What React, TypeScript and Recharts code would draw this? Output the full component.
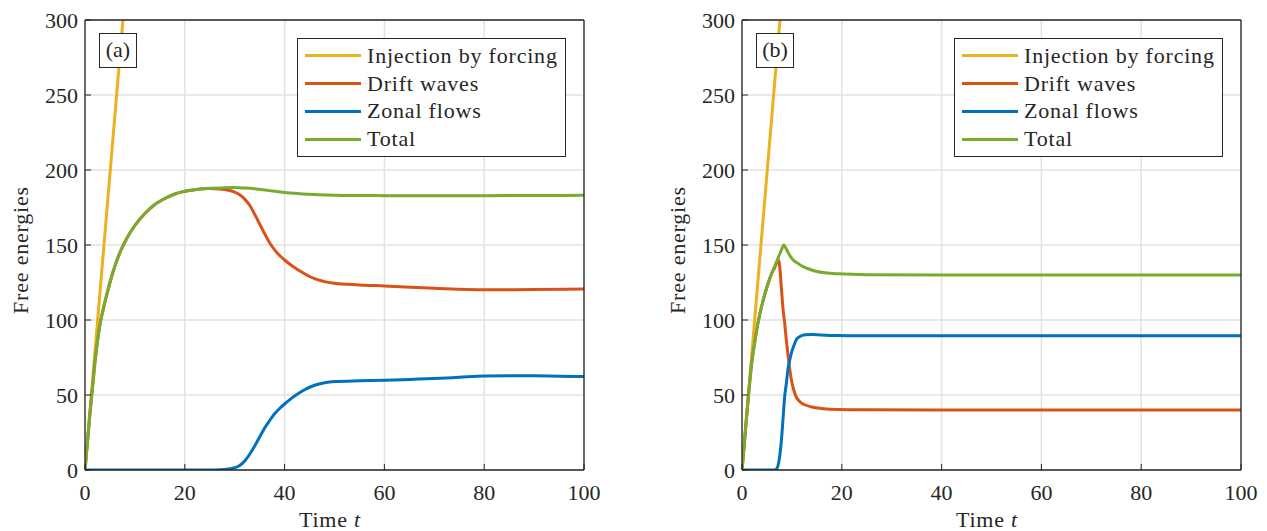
import React from 'react';
import { LineChart, Line, XAxis, YAxis, CartesianGrid, Legend } from 'recharts';

// axis ticks
const xTicks = [0, 20, 40, 60, 80, 100];
const yTicks = [0, 50, 100, 150, 200, 250, 300];

const names = ['Injection by forcing', 'Drift waves', 'Zonal flows', 'Total'];
const colors = ['#EDB120', '#D95319', '#0072BD', '#77AC30'];

// panel (a)
const tInjA = [0, 7.6];
const vInjA = [0, 300];

const tDriftA = [0, 1, 1.5, 2, 3, 4, 5, 6, 7, 8, 9, 10, 12, 14, 16, 18, 20, 22, 25, 27, 28, 29, 30, 31, 32, 33, 34, 35, 36, 37, 38, 39, 40, 41, 42, 43, 44, 45, 46, 47, 48, 50, 55, 60, 70, 80, 90, 100];
const vDriftA = [0, 38, 55, 72, 97, 112, 125, 136, 145, 152, 158, 163, 171, 177, 181, 184, 185.8, 186.9, 187.6, 187.4, 187, 186.3, 185.2, 183.5, 180.6, 176.5, 170.5, 164, 157.5, 151.5, 146.7, 143, 140, 137.3, 135, 132.8, 130.8, 129, 127.6, 126.5, 125.6, 124.5, 123.4, 122.7, 121.2, 120.2, 120.3, 120.6];

const tZonalA = [0, 26, 28, 30, 31, 32, 33, 34, 35, 36, 37, 38, 39, 40, 41, 42, 44, 46, 48, 50, 55, 60, 65, 70, 75, 80, 85, 90, 95, 100];
const vZonalA = [0, 0, 0.3, 1.5, 3, 6, 10.5, 16, 22, 28, 33, 37.5, 41, 44, 46.8, 49.3, 53.5, 56.5, 58.2, 59, 59.5, 59.8, 60.4, 61, 61.8, 62.6, 62.9, 62.8, 62.5, 62.3];

const tTotalA = [0, 1, 1.5, 2, 3, 4, 5, 6, 7, 8, 9, 10, 12, 14, 16, 18, 20, 22, 25, 28, 30, 32, 34, 36, 38, 40, 43, 46, 50, 55, 60, 70, 80, 90, 100];
const vTotalA = [0, 38, 55, 72, 97, 112, 125, 136, 145, 152, 158, 163, 171, 177, 181, 184, 185.8, 186.9, 187.8, 188.2, 188.3, 188, 187.5, 186.7, 185.8, 185, 184.2, 183.6, 183.2, 183, 182.9, 182.9, 182.9, 183, 183.1];

// panel (b)
const tInjB = [0, 7.6];
const vInjB = [0, 300];

const tDriftB = [0, 0.6, 1.2, 1.9, 2.5, 3.2, 4, 5, 5.5, 6, 6.5, 7, 7.35, 7.6, 7.9, 8.2, 8.55, 8.9, 9.2, 9.55, 9.9, 10.4, 10.9, 11.6, 12.6, 14, 15.9, 19.2, 25, 40, 60, 80, 100];
const vDriftB = [0, 23, 46, 70, 84, 98, 110, 122, 127, 131.5, 134.5, 138.5, 140.2, 134, 121, 108, 98, 86, 77, 68, 60, 53, 48.5, 45.5, 43.5, 42, 41, 40.3, 40.1, 40, 40, 40, 40];

const tZonalB = [0, 6.5, 6.9, 7.2, 7.55, 7.9, 8.2, 8.55, 8.9, 9.2, 9.55, 9.9, 10.4, 10.9, 11.6, 12.6, 14, 15.9, 19.2, 25, 40, 60, 80, 100];
const vZonalB = [0, 0, 0.5, 2.7, 9, 20, 33, 49, 58, 67, 73, 78, 83, 87, 89, 90.2, 90.4, 90, 89.6, 89.5, 89.5, 89.5, 89.5, 89.5];

const tTotalB = [0, 0.6, 1.2, 1.9, 2.5, 3.2, 4, 5, 5.5, 6, 6.5, 7, 7.5, 8, 8.35, 8.7, 9, 9.5, 10, 10.5, 11.2, 12, 13, 14.6, 17, 19.2, 25, 40, 60, 80, 100];
const vTotalB = [0, 23, 46, 70, 84, 98, 110, 122, 127, 131.5, 135.5, 139.5, 143.5, 147.5, 150, 148.5, 146.5, 143.5, 141, 139.3, 137.8, 136, 134.5, 132.7, 131.3, 130.8, 130.2, 130, 130, 130, 130];

const zip = (t: number[], v: number[]) => t.map((x, i) => ({ t: x, v: v[i] }));

const panelA = [zip(tInjA, vInjA), zip(tDriftA, vDriftA), zip(tZonalA, vZonalA), zip(tTotalA, vTotalA)];
const panelB = [zip(tInjB, vInjB), zip(tDriftB, vDriftB), zip(tZonalB, vZonalB), zip(tTotalB, vTotalB)];

const ink = '#262626';
const font = 'Liberation Serif';

function LegendBox() {
  return (
    <div
      style={{
        boxSizing: 'border-box',
        width: 269,
        border: `1.5px solid ${ink}`,
        background: '#fff',
        padding: '3px 0 3px 7px',
        fontFamily: font,
        fontSize: 22,
        letterSpacing: 0.8,
        color: ink,
      }}
    >
      {names.map((n, i) => (
        <div key={n} style={{ display: 'flex', alignItems: 'center', height: 27.8 }}>
          <span style={{ display: 'inline-block', width: 56, height: 3, background: colors[i], marginRight: 6 }} />
          <span style={{ lineHeight: '22px', fontFamily: font }}>{n}</span>
        </div>
      ))}
    </div>
  );
}

function Panel({ series, left, width, tag }: { series: { t: number; v: number }[][]; left: number; width: number; tag: string }) {
  return (
    <div style={{ position: 'absolute', left, top: 0, width, height: 531, fontFamily: font }}>
      <LineChart width={width} height={531} margin={{ top: 19, right: width - 585, bottom: 21, left: 25 }} style={{ fontFamily: font }}>
        <CartesianGrid stroke="#e2e2e2" strokeWidth={1.5} horizontalValues={yTicks} verticalValues={xTicks} />
        <XAxis
          type="number"
          dataKey="t"
          domain={[0, 100]}
          ticks={xTicks}
          interval={0}
          height={40}
          tickSize={-6}
          tickMargin={20}
          axisLine={{ stroke: ink, strokeWidth: 1.3 }}
          tickLine={{ stroke: ink }}
          tick={{ fontSize: 22, fill: ink, fontFamily: font }}
          allowDataOverflow
        />
        <XAxis
          xAxisId="top"
          orientation="top"
          type="number"
          domain={[0, 100]}
          ticks={xTicks}
          interval={0}
          height={1}
          tickSize={-6}
          tick={false}
          axisLine={{ stroke: ink, strokeWidth: 1.3 }}
          tickLine={{ stroke: ink }}
          allowDataOverflow
        />
        <YAxis
          type="number"
          domain={[0, 300]}
          ticks={yTicks}
          interval={0}
          width={60}
          tickSize={-6}
          tickMargin={13}
          axisLine={{ stroke: ink, strokeWidth: 1.3 }}
          tickLine={{ stroke: ink }}
          tick={{ fontSize: 22, fill: ink, fontFamily: font }}
          allowDataOverflow
        />
        <YAxis
          yAxisId="right"
          orientation="right"
          type="number"
          domain={[0, 300]}
          ticks={yTicks}
          interval={0}
          width={1}
          tickSize={-6}
          tick={false}
          axisLine={{ stroke: ink, strokeWidth: 1.3 }}
          tickLine={{ stroke: ink }}
          allowDataOverflow
        />
        {series.map((d, i) => (
          <Line
            key={names[i]}
            data={d}
            dataKey="v"
            name={names[i]}
            type="monotone"
            stroke={colors[i]}
            strokeWidth={3}
            dot={false}
            activeDot={false}
            isAnimationActive={false}
          />
        ))}
        <Legend
          layout="vertical"
          align="center"
          verticalAlign="middle"
          wrapperStyle={{ left: 297, top: 38, width: 269 }}
          content={() => <LegendBox />}
        />
      </LineChart>
      <div
        style={{
          position: 'absolute',
          left: 99,
          top: 33,
          width: 38,
          height: 35,
          boxSizing: 'border-box',
          border: `1.5px solid ${ink}`,
          background: '#fff',
          fontSize: 22,
          lineHeight: '32px',
          textAlign: 'center',
          color: ink,
          fontFamily: font,
        }}
      >
        {tag}
      </div>
      <div
        style={{
          position: 'absolute',
          left: 21 - 100,
          top: 250 - 12,
          width: 200,
          height: 24,
          lineHeight: '24px',
          textAlign: 'center',
          fontSize: 22,
          letterSpacing: 0.8,
          color: ink,
          fontFamily: font,
          transform: 'rotate(-90deg)',
        }}
      >
        Free energies
      </div>
      <div
        style={{
          position: 'absolute',
          left: 85,
          width: 490,
          top: 509,
          lineHeight: '22px',
          textAlign: 'center',
          fontSize: 22,
          letterSpacing: 0.8,
          color: ink,
          fontFamily: font,
        }}
      >
        Time <i>t</i>
      </div>
    </div>
  );
}

export default function App() {
  return (
    <div style={{ position: 'absolute', left: 0, top: 0, width: 1267, height: 531, background: '#fff' }}>
      <Panel series={panelA} left={0} width={620} tag="(a)" />
      <Panel series={panelB} left={657} width={610} tag="(b)" />
    </div>
  );
}
